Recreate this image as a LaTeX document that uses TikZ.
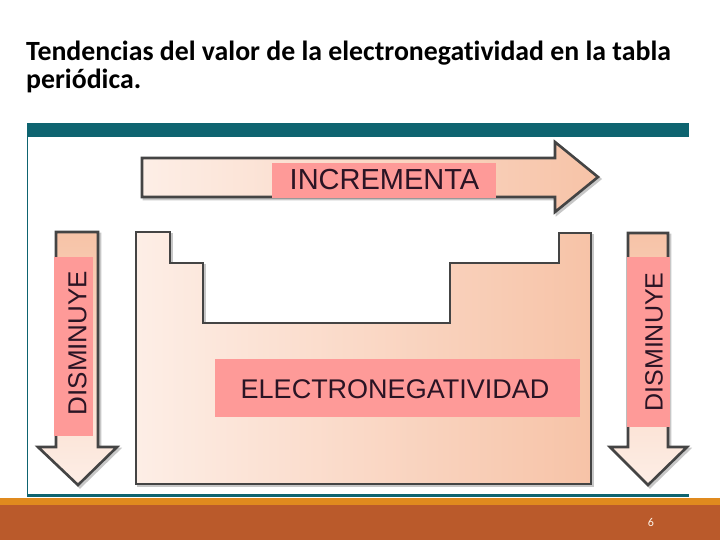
\documentclass[tikz,border=0pt]{standalone}
\usepackage{fontspec}
\setmainfont{Carlito}[Ligatures={NoCommon}]
\newfontfamily\arial{Liberation Sans}

\definecolor{verde}{HTML}{0E6470}
\definecolor{naranja}{HTML}{E08A1E}
\definecolor{ladrillo}{HTML}{BA5A2B}
\definecolor{rosa}{HTML}{FE9A98}
\definecolor{letra}{HTML}{2A1424}
\definecolor{grisborde}{HTML}{444444}
\definecolor{claro}{HTML}{FDEEE6}
\definecolor{durazno}{HTML}{F7C3A7}

\begin{document}
\begin{tikzpicture}[x=1pt, y=-1pt,
      borde/.style={line width=2.6pt, draw=grisborde},
      sombra/.style={preaction={draw=black!22, fill=black!22, line width=2.6pt,
          transform canvas={xshift=2pt, yshift=-2pt}}},
      etiqueta/.style={text=letra, inner sep=0pt}]

      \useasboundingbox (0,0) rectangle (720,540);

      % Titulo
      \node (titulo) [anchor=north west, align=left, inner sep=0pt,
      font=\bfseries\fontsize{27.8}{27.5}\selectfont] at (26,41)
      {Tendencias del valor de la electronegatividad en la tabla\\periódica.};

      % Marco y pie
      \fill [verde] (27,123) rectangle (689,137);
      \draw [verde, line width=1.5pt] (27.7,137) -- (27.7,495);
      \draw [verde, line width=3pt] (27,495) -- (689,495);
      \fill [naranja] (0,498) rectangle (720,505);
      \fill [ladrillo] (0,505) rectangle (720,540);

      % Flechas
      \shadedraw [borde, sombra, left color=claro, right color=durazno]
      (142,158) -- (555,158) -- (555,142) -- (598,177) -- (555,212)
      -- (555,197) -- (142,197) -- cycle;
      \shadedraw [borde, sombra, top color=durazno, bottom color=claro]
      (56,232) -- (98,232) -- (98,447) -- (117,447) -- (78,485)
      -- (38,447) -- (56,447) -- cycle;
      \shadedraw [borde, sombra, top color=durazno, bottom color=claro]
      (628,233) -- (668,233) -- (668,447) -- (687,447) -- (648,485)
      -- (610,447) -- (628,447) -- cycle;

      % Tabla periodica
      \shadedraw [borde, sombra, left color=claro, right color=durazno]
      (136,232) -- (170,232) -- (170,263) -- (203,263) -- (203,323)
      -- (450,323) -- (450,263) -- (559,263) -- (559,233) -- (591,233)
      -- (591,484) -- (136,484) -- cycle;

      % Etiquetas
      \fill [rosa] (272,163) rectangle (496,198);
      \fill [rosa] (54,257) rectangle (93,436);
      \fill [rosa] (627,257) rectangle (670,427);
      \fill [rosa] (215,359) rectangle (580,417);

      \node (incrementa) [etiqueta, font=\arial\fontsize{29}{29}\selectfont]
      at (384.5,180) {INCREMENTA};
      \node (disminuyeizq) [etiqueta, rotate=90, font=\arial\fontsize{26}{26}\selectfont]
      at (77.5,343) {DISMINUYE};
      \node (disminuyeder) [etiqueta, rotate=90, font=\arial\fontsize{25}{25}\selectfont]
      at (654,342) {DISMINUYE};
      \node (electro) [etiqueta, font=\arial\fontsize{27}{27}\selectfont]
      at (395,389) {ELECTRONEGATIVIDAD};

      % Numero de pagina
      \node (pagina) [text=white!90!naranja, font=\fontsize{12}{12}\selectfont]
      at (651,522) {6};
    \end{tikzpicture}
\end{document}
